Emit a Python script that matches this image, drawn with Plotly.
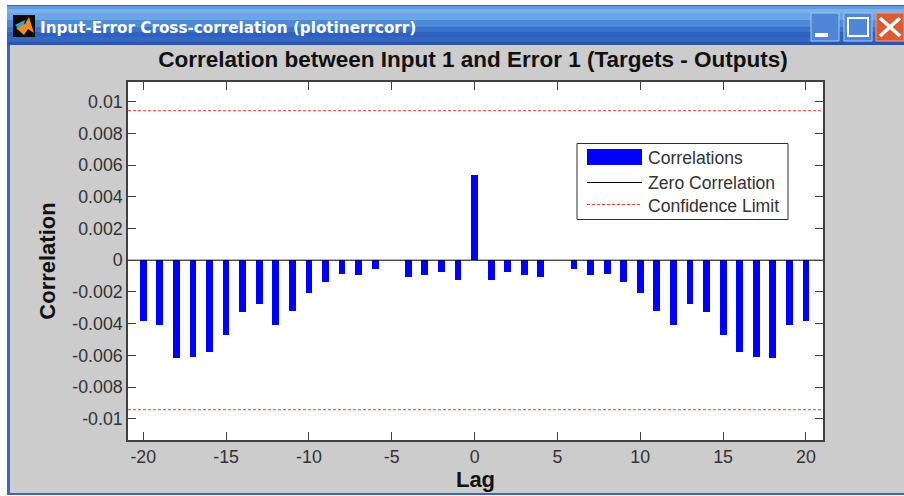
import plotly.graph_objects as go

W, H = 904, 496
lags = list(range(-20, 21))
correlations = [-0.00385, -0.00406, -0.00618, -0.00612, -0.00576, -0.00471, -0.00328, -0.00278,
                -0.00406, -0.00322, -0.00208, -0.00139, -0.00088, -0.00095, -0.00053, 0,
                -0.00109, -0.00095, -0.00074, -0.00124, 0.0054, -0.00124, -0.00074, -0.00095,
                -0.00109, 0, -0.00053, -0.00095, -0.00088, -0.00139, -0.00208, -0.00322,
                -0.00406, -0.00278, -0.00328, -0.00471, -0.00576, -0.00612, -0.00618, -0.00406,
                -0.00385]
limit_x = [-20.92, 21.03]
zero_y = [0, 0]
upper_y = [0.00943, 0.00943]
lower_y = [-0.00943, -0.00943]
x_ticks = [-20, -15, -10, -5, 0, 5, 10, 15, 20]
x_labels = ["-20", "-15", "-10", "-5", "0", "5", "10", "15", "20"]
y_ticks = [0.01, 0.008, 0.006, 0.004, 0.002, 0, -0.002, -0.004, -0.006, -0.008, -0.01]
y_labels = ["0.01", "0.008", "0.006", "0.004", "0.002", "0", "-0.002", "-0.004", "-0.006", "-0.008", "-0.01"]
title_text = "Correlation between Input 1 and Error 1 (Targets - Outputs)"
window_text = "Input-Error Cross-correlation (plotinerrcorr)"
legend_names = ["Correlations", "Zero Correlation", "Confidence Limit"]

SANS = "Liberation Sans"
fig = go.Figure()
fig.add_bar(x=lags, y=correlations, width=0.41, name=legend_names[0],
            marker=dict(color="#0000ff", line=dict(width=0)))
fig.add_scatter(x=limit_x, y=zero_y, mode="lines", name=legend_names[1],
                line=dict(color="#000000", width=1))
fig.add_scatter(x=limit_x, y=upper_y, mode="lines", name=legend_names[2],
                line=dict(color="#ff3333", width=1, dash="3px,2px"))
fig.add_scatter(x=limit_x, y=lower_y, mode="lines", name=legend_names[2], showlegend=False,
                line=dict(color="#ff3333", width=1, dash="3px,2px"))

def X(p): return p / W
def Y(p): return 1 - p / H
shapes, anns = [], []
def rect(x0, y0, x1, y1, fill, line=None, lw=0, layer="below"):
    shapes.append(dict(type="rect", xref="paper", yref="paper", x0=X(x0), x1=X(x1), y0=Y(y0), y1=Y(y1),
                       fillcolor=fill, line=dict(color=line or fill, width=lw), layer=layer))
def seg(x0, y0, x1, y1, color, lw=1, dash=None):
    shapes.append(dict(type="line", xref="paper", yref="paper", x0=X(x0), x1=X(x1), y0=Y(y0), y1=Y(y1),
                       line=dict(color=color, width=lw, dash=dash), layer="above"))
def text(x, y, s, size, color, font=SANS, anchor="left", bold=False):
    anns.append(dict(xref="paper", yref="paper", x=X(x), y=Y(y), text=f"<b>{s}</b>" if bold else s,
                     showarrow=False, xanchor=anchor, yanchor="middle", font=dict(family=font, size=size, color=color)))

# window frame
rect(7, 5, 904, 495, "#3f64b8")
rect(10, 45, 904, 493, "#cccccc")
rect(128, 82, 823, 440, "#ffffff")
# title bar gradient
stops = [(6, "#5f9ae0"), (9, "#79b3ea"), (13, "#6aa5e6"), (20, "#4f8ad8"), (27, "#3b74cc"), (32, "#2f62c0"), (37, "#3467c0"), (42, "#2c55ae"), (45, "#2a4fa8")]
for (a, ca), (b, _) in zip(stops, stops[1:]):
    rect(7, a, 904, b, ca)
# icon
rect(13, 15, 35, 37, "#0a0a0a")
shapes.append(dict(type="path", xref="paper", yref="paper", layer="below", fillcolor="#f08a24", line=dict(width=0),
                   path=f"M {X(16)} {Y(28)} L {X(25)} {Y(24)} L {X(29)} {Y(17)} L {X(34)} {Y(33)} L {X(28)} {Y(29)} L {X(24)} {Y(35)} Z"))
shapes.append(dict(type="path", xref="paper", yref="paper", layer="below", fillcolor="#3aa6c8", line=dict(width=0),
                   path=f"M {X(15)} {Y(25)} L {X(25)} {Y(20)} L {X(24)} {Y(25)} L {X(18)} {Y(28)} Z"))
text(38, 28, window_text, 15.2, "#ffffff", font="DejaVu Sans", bold=True)
# window buttons
rect(811, 13, 839, 41, "#4f86d6", "#a8c8ee", 1)
rect(815, 33, 828, 37, "#ffffff")
rect(844, 13, 872, 41, "#4f86d6", "#a8c8ee", 1)
rect(848, 18, 868, 36, "rgba(0,0,0,0)", "#ffffff", 2)
rect(876, 13, 904, 41, "#dc5a32", "#e8a080", 1)
seg(880, 18, 900, 36, "#ffffff", 3.5)
seg(900, 18, 880, 36, "#ffffff", 3.5)

# legend
rect(577, 143.5, 788, 219.5, "#ffffff", "#303030", 1, layer="above")
rect(587, 149, 642, 165, "#0000ff", layer="above")
seg(587, 182.5, 642, 182.5, "#000000", 1)
seg(587, 204.5, 642, 204.5, "#ff3333", 1, "3px,2px")
for yy, name in zip((158, 183, 206), legend_names):
    text(646, yy, name, 17.6, "#333333")

fig.update_layout(
    width=W, height=H, autosize=False, margin=dict(l=0, r=0, t=0, b=0),
    paper_bgcolor="#ffffff", plot_bgcolor="#ffffff", showlegend=False, bargap=0, hovermode=False,
    title=dict(text=f"<b>{title_text}</b>", x=X(473), y=Y(59), xanchor="center", yanchor="middle",
               font=dict(family=SANS, size=22.5, color="#111111")),
    shapes=shapes, annotations=anns, font=dict(family=SANS),
)
axis = dict(showgrid=False, zeroline=False, showline=True, linecolor="#404040", linewidth=1.5, mirror="allticks",
            ticks="inside", ticklen=8, tickcolor="#404040", tickwidth=1,
            tickfont=dict(family=SANS, size=17.8, color="#333333"))
fig.update_xaxes(domain=[X(128), X(823)], range=[-20.92, 21.03], tickvals=x_ticks, ticktext=x_labels,
                 title=dict(text="<b>Lag</b>", font=dict(family=SANS, size=22, color="#111111"), standoff=3), **axis)
fig.update_yaxes(domain=[Y(440), Y(82)], range=[-0.01134, 0.01124], tickvals=y_ticks, ticktext=y_labels,
                 title=dict(text="<b>Correlation</b>", font=dict(family=SANS, size=22, color="#111111"), standoff=11), **axis)
fig.write_html("out.html", config=dict(displayModeBar=False),
               post_script="document.body.style.margin='0';document.documentElement.style.overflow='hidden';")
